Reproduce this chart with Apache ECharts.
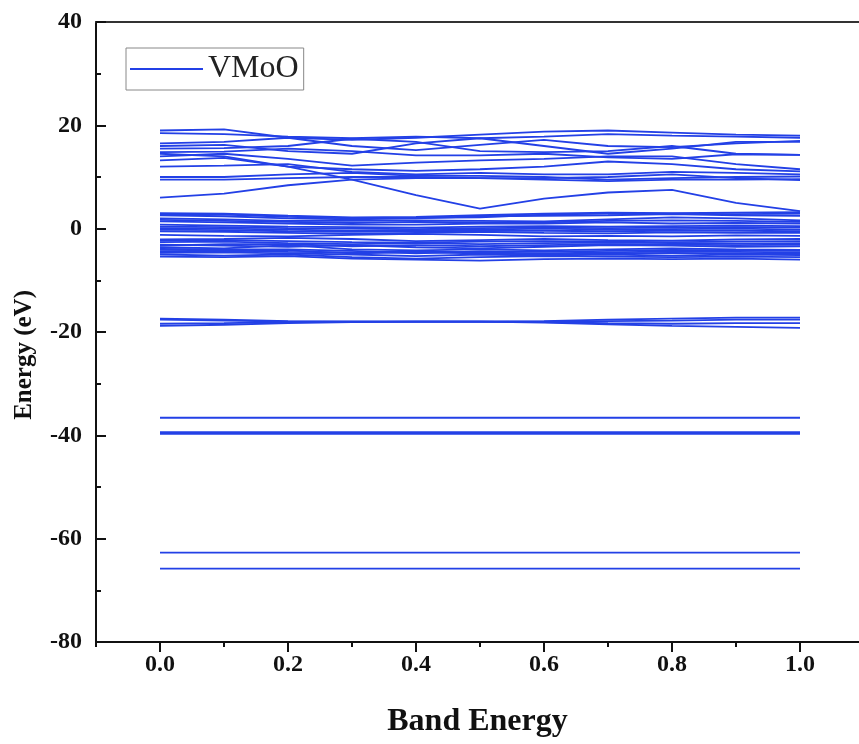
<!DOCTYPE html>
<html>
<head>
<meta charset="utf-8">
<script src="https://cdn.jsdelivr.net/npm/echarts@6/dist/echarts.min.js"></script>
<style>html,body{margin:0;padding:0;background:#fff;}#c{width:859px;height:744px;}</style>
</head>
<body>
<div id="c"></div>
<script>
// k-path positions
const kx = [0, 0.1, 0.2, 0.3, 0.4, 0.5, 0.6, 0.7, 0.8, 0.9, 1.0];
const xMajorTicks = [0, 0.2, 0.4, 0.6, 0.8, 1.0];
const xMinorTicks = [-0.1, 0.1, 0.3, 0.5, 0.7, 0.9];
const yTicks = [-80, -60, -40, -20, 0, 20, 40];
const seriesName = 'VMoO';

// conduction-like bands (eV)
const upperBands = [
  [19.0, 19.2, 17.6, 17.2, 17.6, 18.2, 18.8, 19.0, 18.6, 18.2, 18.0],
  [18.5, 18.3, 17.8, 17.5, 17.8, 17.5, 17.8, 18.3, 18.0, 17.8, 17.6],
  [16.5, 16.8, 17.6, 16.0, 15.2, 16.2, 17.2, 16.0, 15.8, 16.5, 17.0],
  [16.0, 16.2, 15.0, 14.5, 16.5, 17.5, 16.0, 14.5, 15.5, 16.8, 16.8],
  [15.5, 15.6, 16.0, 17.4, 16.8, 15.0, 14.8, 15.0, 16.0, 14.5, 14.3],
  [14.8, 14.9, 15.5, 15.0, 14.2, 14.2, 14.5, 13.8, 13.5, 14.4, 14.3],
  [14.0, 14.5, 13.5, 12.2, 12.8, 13.2, 13.5, 14.0, 14.0, 12.5, 11.5],
  [13.2, 13.7, 12.0, 11.5, 11.2, 11.5, 12.0, 13.0, 12.5, 11.5, 11.1],
  [12.0, 12.2, 12.5, 11.0, 10.5, 10.8, 10.5, 10.5, 11.0, 10.8, 10.5],
  [10.0, 10.0, 10.5, 10.8, 10.2, 10.2, 10.0, 9.5, 9.8, 10.0, 10.1],
  [9.5, 9.5, 9.8, 10.0, 10.0, 9.8, 9.5, 9.2, 9.5, 9.5, 9.6],
  [6.0, 6.8, 8.4, 9.5, 9.8, 9.8, 9.8, 10.0, 10.5, 9.8, 9.4],
  [14.5, 14.0, 12.0, 9.5, 6.5, 3.9, 5.8, 7.0, 7.5, 5.0, 3.4]
];

// valence-like bands (eV)
const valenceBands = [
  [3.0, 2.9, 2.5, 2.2, 2.3, 2.6, 2.9, 3.1, 3.0, 3.1, 3.2],
  [2.8, 2.7, 2.3, 2.0, 2.1, 2.2, 2.7, 2.9, 2.9, 2.8, 2.9],
  [2.6, 2.4, 2.0, 1.8, 2.0, 2.4, 2.5, 2.6, 2.8, 2.6, 2.5],
  [2.0, 1.8, 1.5, 1.5, 1.6, 1.5, 1.4, 1.8, 2.2, 2.0, 1.6],
  [1.7, 1.5, 1.3, 1.1, 1.3, 1.2, 1.2, 1.5, 1.6, 1.5, 1.3],
  [1.4, 1.2, 1.0, 0.8, 0.8, 1.0, 1.0, 1.2, 1.0, 1.1, 1.0],
  [0.8, 0.6, 0.4, 0.3, 0.2, 0.4, 0.5, 0.4, 0.5, 0.6, 0.5],
  [0.4, 0.3, 0.1, 0.0, -0.1, 0.1, 0.2, 0.1, 0.2, 0.3, 0.2],
  [0.1, 0.0, -0.2, -0.4, -0.3, -0.2, 0.0, -0.2, -0.1, 0.0, -0.2],
  [-0.2, -0.3, -0.5, -0.6, -0.5, -0.4, -0.4, -0.5, -0.4, -0.4, -0.5],
  [-0.5, -0.6, -0.8, -1.0, -0.8, -0.6, -0.8, -0.9, -0.7, -0.8, -0.8],
  [-1.2, -1.4, -1.5, -1.2, -1.0, -1.2, -1.5, -1.4, -1.5, -1.3, -1.4],
  [-2.1, -2.0, -1.8, -2.0, -2.4, -2.2, -2.0, -2.2, -2.3, -2.1, -2.0],
  [-2.3, -2.2, -2.4, -2.6, -2.7, -2.5, -2.4, -2.5, -2.6, -2.5, -2.4],
  [-2.6, -2.5, -2.8, -3.0, -2.8, -3.0, -2.8, -2.7, -2.8, -2.9, -2.8],
  [-3.1, -3.3, -3.5, -3.2, -3.6, -3.8, -3.5, -3.2, -3.3, -3.5, -3.4],
  [-3.3, -3.0, -3.0, -3.4, -3.2, -3.4, -3.2, -3.0, -3.1, -3.2, -3.1],
  [-3.6, -3.8, -3.2, -4.0, -4.2, -4.0, -4.2, -4.0, -3.8, -4.0, -4.1],
  [-3.9, -4.0, -4.0, -4.3, -4.8, -4.4, -4.5, -4.3, -4.1, -4.2, -4.3],
  [-4.1, -4.2, -4.5, -4.6, -4.4, -4.6, -4.8, -4.6, -4.4, -4.5, -4.6],
  [-4.4, -4.4, -4.2, -4.8, -4.6, -4.8, -5.0, -4.8, -4.7, -4.8, -4.9],
  [-4.7, -4.6, -4.8, -5.0, -5.3, -5.0, -5.2, -5.0, -5.2, -5.0, -5.1],
  [-5.0, -5.2, -5.0, -5.5, -5.8, -5.5, -5.3, -5.4, -5.5, -5.4, -5.5],
  [-5.4, -5.5, -5.3, -5.8, -6.0, -6.2, -5.9, -5.8, -5.9, -5.8, -6.0]
];

// semi-core bands (eV)
const semicoreBands = [
  [-17.4, -17.6, -17.9, -18.0, -18.0, -18.0, -17.9, -17.6, -17.4, -17.2, -17.2],
  [-17.6, -17.8, -18.0, -18.0, -18.0, -18.0, -18.0, -17.9, -17.8, -17.6, -17.6],
  [-18.4, -18.3, -18.1, -18.0, -18.0, -18.0, -18.1, -18.3, -18.4, -18.3, -18.3],
  [-18.8, -18.6, -18.3, -18.1, -18.0, -18.0, -18.2, -18.5, -18.8, -19.0, -19.2]
];

// flat core levels (eV)
const coreLevels = [-36.6, -39.4, -39.7, -62.7, -65.8];

const blue = '#2340e6';
const serif = '"Liberation Serif", "Times New Roman", serif';

const series = [];
[...upperBands, ...valenceBands, ...semicoreBands].forEach(b => {
  series.push({
    name: seriesName, type: 'line', xAxisIndex: 0, yAxisIndex: 0,
    data: kx.map((x, i) => [x, b[i]]),
    showSymbol: false, symbol: 'none', silent: true,
    lineStyle: { color: blue, width: 1.8 }, itemStyle: { color: blue }
  });
});
coreLevels.forEach(v => {
  series.push({
    name: seriesName, type: 'line', xAxisIndex: 0, yAxisIndex: 0,
    data: kx.map(x => [x, v]),
    showSymbol: false, symbol: 'none', silent: true,
    lineStyle: { color: blue, width: 1.8 }, itemStyle: { color: blue }
  });
});

const xMax = -0.1 + (859 - 96) / 640;

const chart = echarts.init(document.getElementById('c'), null, { renderer: 'canvas' });
chart.setOption({
  animation: false,
  backgroundColor: '#fff',
  grid: { left: 96, right: 0, top: 22, bottom: 102, show: false, containLabel: false },
  legend: {
    data: [seriesName], left: 126, top: 48, orient: 'horizontal',
    icon: 'rect', itemWidth: 73, itemHeight: 2, itemGap: 6,
    padding: [5, 5, 5, 4], borderColor: '#888', borderWidth: 1,
    textStyle: { fontFamily: serif, fontSize: 32, color: '#222' }
  },
  graphic: [{
    type: 'text', left: 12, top: 290, rotation: Math.PI / 2,
    style: { text: 'Energy (eV)', fontFamily: serif, fontSize: 25, fontWeight: 'bold', fill: '#111' }
  }],
  xAxis: [
    {
      type: 'value', min: -0.1, max: xMax, position: 'bottom',
      name: 'Band Energy', nameLocation: 'middle', nameGap: 64,
      nameTextStyle: { fontFamily: serif, fontSize: 32, fontWeight: 'bold', color: '#111' },
      axisLine: { show: true, onZero: false, lineStyle: { color: '#111', width: 2 } },
      axisTick: { show: true, inside: false, length: 10, lineStyle: { color: '#111', width: 2 }, customValues: xMajorTicks },
      axisLabel: { fontFamily: serif, fontSize: 24, fontWeight: 'bold', color: '#111', margin: 11,
        customValues: xMajorTicks, formatter: v => v.toFixed(1) },
      splitLine: { show: false }
    },
    {
      type: 'value', min: -0.1, max: xMax, position: 'bottom',
      axisLine: { show: false, onZero: false },
      axisTick: { show: true, inside: false, length: 5, lineStyle: { color: '#111', width: 2 }, customValues: xMinorTicks },
      axisLabel: { show: false },
      splitLine: { show: false }
    },
    {
      type: 'value', min: -0.1, max: xMax, position: 'top',
      axisLine: { show: true, onZero: false, lineStyle: { color: '#333', width: 2 } },
      axisTick: { show: false }, axisLabel: { show: false }, splitLine: { show: false }
    }
  ],
  yAxis: {
    type: 'value', min: -80, max: 40, interval: 20,
    axisLine: { show: true, onZero: false, lineStyle: { color: '#111', width: 2 } },
    axisTick: { show: true, inside: true, length: 10, lineStyle: { color: '#111', width: 2 } },
    minorTick: { show: true, splitNumber: 2, length: 5, lineStyle: { color: '#111', width: 2 } },
    axisLabel: { fontFamily: serif, fontSize: 24, fontWeight: 'bold', color: '#111', margin: 14,
      customValues: yTicks },
    splitLine: { show: false }
  },
  series: series
});
</script>
</body>
</html>
